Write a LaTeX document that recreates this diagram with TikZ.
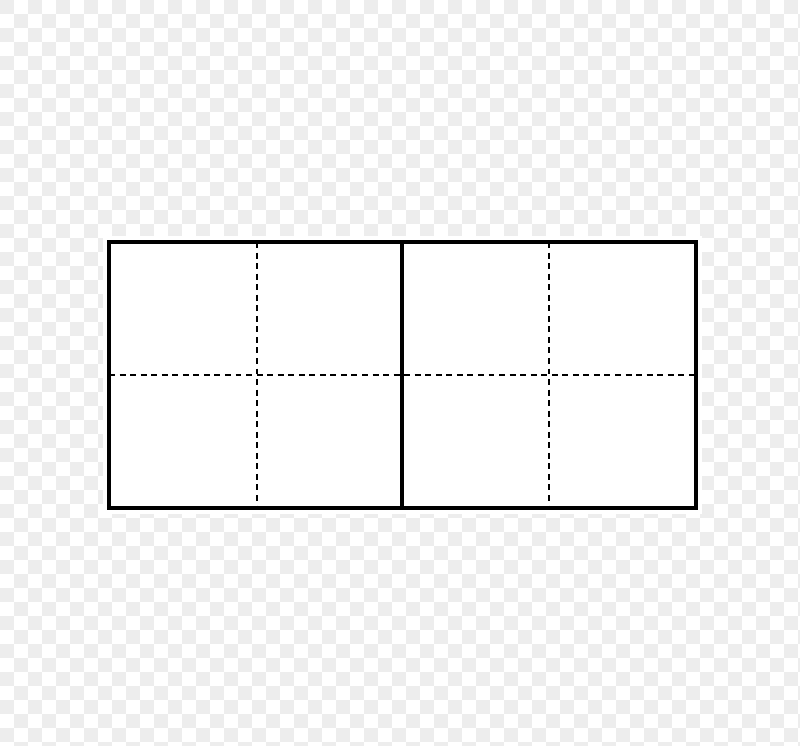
\documentclass[tikz,border=0pt]{standalone}
\usepackage{tikz}

\tikzset{
    checker/.style={fill=black!7, draw=none},
    outerline/.style={black, line width=2pt},
    foldline/.style={black, line width=0.8pt, dash pattern=on 3.4pt off 2.6pt}
}

\begin{document}
\begin{tikzpicture}[x=0.02cm, y=-0.02cm]
\useasboundingbox (0,0) rectangle (800,745);
\fill[white] (0,0) rectangle (800,745);
% checkered background
\foreach \i in {0,...,28} {
    \foreach \j in {0,...,26} {
        \fill[checker] (28*\i,28*\j) rectangle ++(14,14);
        \fill[checker] (28*\i+14,28*\j+14) rectangle ++(14,14);
    }
}
% white margin round the sheet
\fill[white] (103,236) rectangle (702,514);

% fold lines
\draw[foldline] (257,242) -- (257,508);
\draw[foldline] (549,242) -- (549,508);
\draw[foldline] (109,375) -- (696,375);

% sheet outline and middle cut
\draw[outerline] (109,242) rectangle (696,508);
\draw[outerline] (402,242) -- (402,508);
\end{tikzpicture}
\end{document}
